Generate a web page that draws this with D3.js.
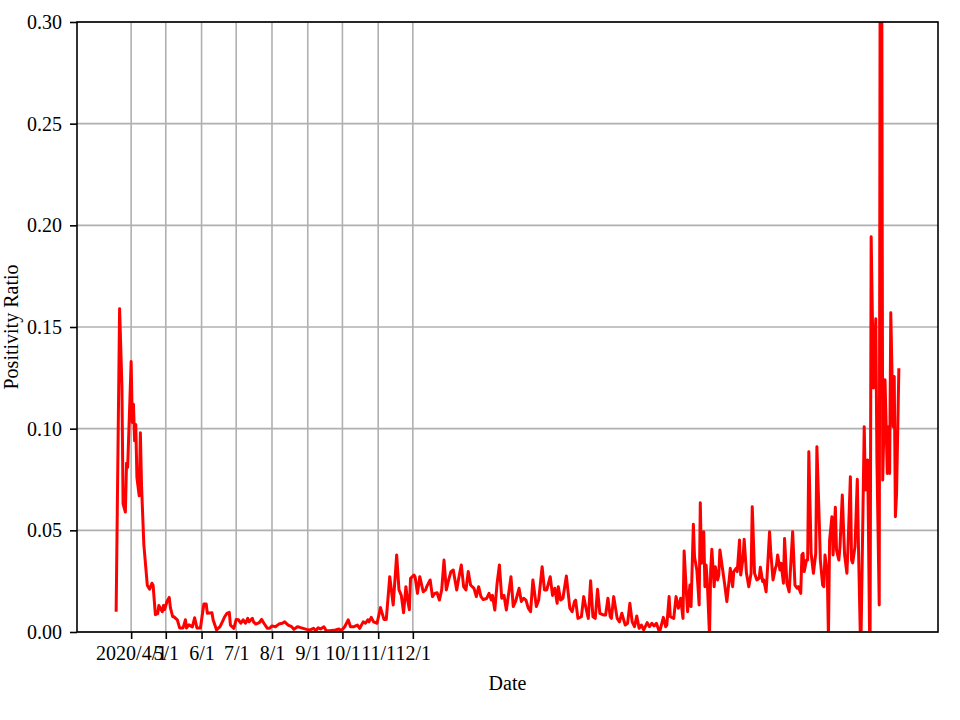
<!DOCTYPE html>
<html>
<head>
<meta charset="utf-8">
<script src="https://d3js.org/d3.v7.min.js"></script>
<style>
  body { margin: 0; background: #fff; }
  text { font-family: "Liberation Serif", "Times New Roman", serif; }
</style>
</head>
<body>
<div id="chart"></div>
<script>
// daily positivity ratio
const dates = [
  "2020-03-19","2020-03-22","2020-03-24","2020-03-25","2020-03-27","2020-03-28","2020-03-29",
  "2020-04-01","2020-04-02","2020-04-03","2020-04-04","2020-04-05","2020-04-06","2020-04-08",
  "2020-04-09","2020-04-10","2020-04-12","2020-04-15","2020-04-17","2020-04-19","2020-04-20",
  "2020-04-22","2020-04-24","2020-04-25","2020-04-28","2020-04-29","2020-04-30",
  "2020-05-02","2020-05-04","2020-05-05","2020-05-07","2020-05-08","2020-05-11","2020-05-13",
  "2020-05-16","2020-05-18","2020-05-19","2020-05-21","2020-05-24","2020-05-26","2020-05-28","2020-05-31",
  "2020-06-03","2020-06-05","2020-06-06","2020-06-10","2020-06-11","2020-06-14","2020-06-17",
  "2020-06-19","2020-06-21","2020-06-23","2020-06-25","2020-06-26","2020-06-29",
  "2020-07-01","2020-07-03","2020-07-05","2020-07-07","2020-07-09","2020-07-11","2020-07-12",
  "2020-07-15","2020-07-16","2020-07-18","2020-07-21","2020-07-23","2020-07-25","2020-07-28","2020-07-30",
  "2020-08-01","2020-08-04","2020-08-07","2020-08-10","2020-08-12","2020-08-15","2020-08-18",
  "2020-08-20","2020-08-23","2020-08-25","2020-08-28","2020-08-31",
  "2020-09-03","2020-09-06","2020-09-08","2020-09-10","2020-09-12","2020-09-15","2020-09-17",
  "2020-09-20","2020-09-25","2020-09-28","2020-09-30",
  "2020-10-03","2020-10-06","2020-10-08","2020-10-11","2020-10-14","2020-10-16","2020-10-19",
  "2020-10-21","2020-10-23","2020-10-24","2020-10-26","2020-10-28","2020-10-31",
  "2020-11-03","2020-11-06","2020-11-08","2020-11-11","2020-11-14","2020-11-17","2020-11-19",
  "2020-11-21","2020-11-23","2020-11-25","2020-11-26","2020-11-28","2020-11-29",
  "2020-12-02","2020-12-03","2020-12-05","2020-12-07","2020-12-10","2020-12-12","2020-12-13",
  "2020-12-16","2020-12-18","2020-12-20","2020-12-22","2020-12-24","2020-12-26","2020-12-28","2020-12-30",
  "2021-01-01","2021-01-03","2021-01-05","2021-01-08","2021-01-10","2021-01-12","2021-01-14",
  "2021-01-16","2021-01-18","2021-01-20","2021-01-23","2021-01-25","2021-01-27","2021-01-29","2021-01-31",
  "2021-02-03","2021-02-05","2021-02-07","2021-02-08","2021-02-10","2021-02-12","2021-02-14",
  "2021-02-16","2021-02-18","2021-02-20","2021-02-22","2021-02-24","2021-02-26","2021-02-28",
  "2021-03-03","2021-03-05","2021-03-07","2021-03-09","2021-03-11","2021-03-13","2021-03-15",
  "2021-03-18","2021-03-20","2021-03-23","2021-03-25","2021-03-27","2021-03-30",
  "2021-04-01","2021-04-03","2021-04-05","2021-04-06","2021-04-08","2021-04-10","2021-04-13",
  "2021-04-16","2021-04-18","2021-04-20","2021-04-21","2021-04-23","2021-04-26","2021-04-28","2021-04-30",
  "2021-05-02","2021-05-04","2021-05-06","2021-05-08","2021-05-10","2021-05-12","2021-05-15",
  "2021-05-17","2021-05-19","2021-05-21","2021-05-22","2021-05-24","2021-05-27","2021-05-29","2021-05-31",
  "2021-06-03","2021-06-05","2021-06-07","2021-06-09","2021-06-11","2021-06-13","2021-06-15",
  "2021-06-17","2021-06-19","2021-06-22","2021-06-24","2021-06-26","2021-06-28","2021-06-30",
  "2021-07-02","2021-07-03","2021-07-06","2021-07-08","2021-07-09","2021-07-11","2021-07-12",
  "2021-07-15","2021-07-17","2021-07-19","2021-07-21","2021-07-23","2021-07-24","2021-07-26",
  "2021-07-27","2021-07-29","2021-07-30",
  "2021-08-01","2021-08-02","2021-08-04","2021-08-05","2021-08-06","2021-08-07","2021-08-08",
  "2021-08-10","2021-08-11","2021-08-12","2021-08-13","2021-08-15","2021-08-16","2021-08-17",
  "2021-08-19","2021-08-20","2021-08-22","2021-08-23","2021-08-24","2021-08-26","2021-08-28","2021-08-30",
  "2021-09-01","2021-09-02","2021-09-04","2021-09-05","2021-09-07","2021-09-08","2021-09-10",
  "2021-09-11","2021-09-13","2021-09-14","2021-09-16","2021-09-18","2021-09-20","2021-09-21",
  "2021-09-23","2021-09-25","2021-09-27","2021-09-28","2021-09-30",
  "2021-10-01","2021-10-03","2021-10-04","2021-10-06","2021-10-07","2021-10-09","2021-10-11",
  "2021-10-12","2021-10-13","2021-10-15","2021-10-16","2021-10-18","2021-10-19","2021-10-21",
  "2021-10-23","2021-10-26","2021-10-28","2021-10-30","2021-10-31",
  "2021-11-02","2021-11-03","2021-11-04","2021-11-05","2021-11-07","2021-11-08","2021-11-09",
  "2021-11-11","2021-11-13","2021-11-15","2021-11-16","2021-11-18","2021-11-19","2021-11-21",
  "2021-11-22","2021-11-23","2021-11-25","2021-11-26","2021-11-27","2021-11-29","2021-11-30",
  "2021-12-02","2021-12-03","2021-12-05","2021-12-06","2021-12-08","2021-12-09","2021-12-10",
  "2021-12-12","2021-12-13","2021-12-15","2021-12-16","2021-12-17","2021-12-19","2021-12-21",
  "2021-12-22","2021-12-24","2021-12-27","2021-12-28","2021-12-30",
  "2022-01-01","2022-01-02","2022-01-04","2022-01-06","2022-01-07","2022-01-09","2022-01-10",
  "2022-01-11","2022-01-12","2022-01-14","2022-01-16","2022-01-17","2022-01-18","2022-01-19",
  "2022-01-21","2022-01-22","2022-01-23","2022-01-24","2022-01-26"
];

const ratios = [
  0.010,0.159,0.121,0.063,0.059,0.083,0.081,
  0.133,0.103,0.112,0.094,0.102,0.076,0.067,
  0.098,0.072,0.043,0.023,0.021,0.024,0.023,
  0.0085,0.009,0.013,0.010,0.013,0.011,
  0.015,0.017,0.012,0.0075,0.0075,0.006,0.002,
  0.002,0.006,0.002,0.0035,0.0025,0.007,0.002,0.002,
  0.0138,0.0138,0.0092,0.0095,0.006,0.001,0.0026,
  0.005,0.0075,0.0092,0.0097,0.0034,0.0018,
  0.0062,0.006,0.0043,0.006,0.0043,0.0067,0.005,
  0.0067,0.005,0.0039,0.0046,0.0062,0.0043,0.0018,0.0018,
  0.003,0.0026,0.0039,0.0043,0.005,0.0034,0.0026,
  0.0013,0.0026,0.0023,0.0018,0.0013,
  0.001,0.0018,0.0006,0.0021,0.0015,0.0026,0.0006,
  0.0006,0.001,0.0015,0.0006,
  0.0026,0.006,0.0026,0.0026,0.0034,0.0018,0.005,
  0.0043,0.006,0.005,0.0072,0.005,0.0043,
  0.012,0.0062,0.0062,0.0272,0.0133,0.0379,0.0207,
  0.018,0.0095,0.0223,0.0174,0.011,0.0264,
  0.028,0.027,0.019,0.0272,0.0198,0.0207,0.0223,
  0.0256,0.0174,0.019,0.0193,0.0157,0.0207,0.0354,0.0207,
  0.0256,0.0297,0.0305,0.0207,0.0272,0.033,0.0223,
  0.0207,0.0297,0.0231,0.0215,0.0174,0.0223,0.0174,0.016,
  0.0165,0.019,0.0157,0.018,0.0108,0.024,0.033,
  0.0166,0.018,0.0108,0.019,0.0272,0.0125,0.015,
  0.0215,0.015,0.0166,0.0157,0.0117,0.010,0.0256,
  0.0125,0.0157,0.0321,0.0207,0.0207,0.0272,
  0.018,0.0215,0.0141,0.0223,0.0157,0.0166,0.0275,
  0.0117,0.010,0.015,0.0157,0.0067,0.0075,0.0174,0.0117,
  0.0067,0.0252,0.0075,0.0067,0.021,0.0092,0.0084,
  0.0084,0.0166,0.0075,0.0067,0.0174,0.0067,0.005,0.0092,
  0.0034,0.0043,0.0141,0.005,0.0026,0.0079,0.0018,
  0.0034,0.001,0.0046,0.0026,0.0043,0.003,0.0043,
  0.001,0.0006,0.0072,0.0026,0.0034,0.0174,0.0075,
  0.0067,0.0174,0.0117,0.0166,0.0067,0.0398,0.019,
  0.010,0.0231,0.0125,
  0.053,0.037,0.0305,0.0223,0.0133,0.0636,0.0338,
  0.0493,0.0223,0.033,0.0256,-0.002,0.0305,0.0407,
  0.0223,0.0321,0.0256,0.028,0.0403,0.0321,0.024,0.015,
  0.0256,0.0313,0.0223,0.0297,0.0313,0.0297,0.0452,
  0.028,0.0362,0.0456,0.0289,0.0223,0.0289,0.0616,
  0.0289,0.0256,0.0264,0.0318,0.0248,
  0.0256,0.0198,0.0289,0.0493,0.0395,0.0256,0.0313,
  0.033,0.0379,0.0305,0.0338,0.024,0.046,0.024,
  0.0198,0.0493,0.0231,0.0215,0.0223,
  0.019,0.0379,0.0387,0.0297,0.0354,0.0354,0.0887,
  0.0387,0.0289,0.0387,0.0911,0.055,0.0354,0.0231,
  0.0223,0.0379,0.0289,-0.003,0.0452,0.0567,0.0379,
  0.0613,0.0403,0.0354,0.042,0.0674,0.0518,0.0379,
  0.0289,0.0428,0.0764,0.0354,0.034,0.042,0.0751,
  0.042,-0.012,0.101,0.0698,0.0846,
  -0.02,0.1944,0.12,0.154,0.0846,0.0133,0.42,
  0.38,0.0748,0.124,0.078,0.101,0.078,0.157,
  0.101,0.1256,0.0567,0.068,0.1297
];

const yTicks = [0, 0.05, 0.10, 0.15, 0.20, 0.25, 0.30];
const xTickDates = ["2020-04-01","2020-05-01","2020-06-01","2020-07-01","2020-08-01",
                    "2020-09-01","2020-10-01","2020-11-01","2020-12-01"];
const xTickLabels = ["2020/4/1","5/1","6/1","7/1","8/1","9/1","10/1","11/1","12/1"];

//------------------------1. PREPARATION------------------------//
const width = 960;
const height = 720;
const plot = {left: 77, right: 938, top: 22, bottom: 632};
const fontSize = 20;

const svg = d3.select("#chart")
    .append("svg")
    .attr("width", width)
    .attr("height", height);

const parse = d3.timeParse("%Y-%m-%d");
const data = dates.map(function(d, i) {
    return {date: parse(d), value: ratios[i]};
});

//----------------------------SCALES----------------------------//
const ext = d3.extent(data, function(d) { return d.date; });
const pad = (ext[1] - ext[0]) * 0.05;
const xScale = d3.scaleTime()
    .domain([new Date(+ext[0] - pad), new Date(+ext[1] + pad)])
    .range([plot.left, plot.right]);
const yScale = d3.scaleLinear()
    .domain([0, 0.30])
    .range([plot.bottom, plot.top]);

const tickDates = xTickDates.map(parse);

//-------------------------2. DRAWING---------------------------//
//-----------------------------GRID-----------------------------//
const grid = svg.append("g").attr("class", "grid");
grid.selectAll("line.h")
    .data(yTicks)
    .enter().append("line")
    .attr("x1", plot.left).attr("x2", plot.right)
    .attr("y1", function(d) { return yScale(d); })
    .attr("y2", function(d) { return yScale(d); })
    .attr("stroke", "#b0b0b0")
    .attr("stroke-width", 1.6);
grid.selectAll("line.v")
    .data(tickDates)
    .enter().append("line")
    .attr("x1", function(d) { return xScale(d); })
    .attr("x2", function(d) { return xScale(d); })
    .attr("y1", plot.top).attr("y2", plot.bottom)
    .attr("stroke", "#b0b0b0")
    .attr("stroke-width", 1.6);

//----------------------------LINE------------------------------//
svg.append("clipPath")
    .attr("id", "clip")
    .append("rect")
    .attr("x", plot.left).attr("y", plot.top)
    .attr("width", plot.right - plot.left)
    .attr("height", plot.bottom - plot.top);

const line = d3.line()
    .x(function(d) { return xScale(d.date); })
    .y(function(d) { return yScale(d.value); });

svg.append("path")
    .datum(data)
    .attr("clip-path", "url(#clip)")
    .attr("fill", "none")
    .attr("stroke", "#ff0000")
    .attr("stroke-width", 3)
    .attr("stroke-linejoin", "round")
    .attr("d", line);

//-----------------------------AXES-----------------------------//
const xaxis = d3.axisBottom(xScale)
    .tickValues(tickDates)
    .tickFormat(function(d, i) { return xTickLabels[i]; })
    .tickSize(7)
    .tickPadding(7);

const yaxis = d3.axisLeft(yScale)
    .tickValues(yTicks)
    .tickFormat(d3.format(".2f"))
    .tickSize(7)
    .tickPadding(8);

const gx = svg.append("g")
    .attr("transform", "translate(0," + plot.bottom + ")")
    .call(xaxis);
const gy = svg.append("g")
    .attr("transform", "translate(" + plot.left + ",0)")
    .call(yaxis);

[gx, gy].forEach(function(g) {
    g.select(".domain").remove();
    g.selectAll(".tick line").attr("stroke", "#000").attr("stroke-width", 1.6);
    g.selectAll(".tick text")
        .attr("fill", "#000")
        .style("font-family", "'Liberation Serif', 'Times New Roman', serif")
        .style("font-size", fontSize + "px");
});

// frame
svg.append("rect")
    .attr("x", plot.left).attr("y", plot.top)
    .attr("width", plot.right - plot.left)
    .attr("height", plot.bottom - plot.top)
    .attr("fill", "none")
    .attr("stroke", "#000")
    .attr("stroke-width", 1.6);

//----------------------------LABELS----------------------------//
svg.append("text")
    .attr("x", (plot.left + plot.right) / 2)
    .attr("y", 690)
    .attr("text-anchor", "middle")
    .style("font-size", fontSize + "px")
    .text("Date");

svg.append("text")
    .attr("transform", "translate(18," + ((plot.top + plot.bottom) / 2) + ") rotate(-90)")
    .attr("text-anchor", "middle")
    .style("font-size", fontSize + "px")
    .text("Positivity Ratio");
</script>
</body>
</html>
